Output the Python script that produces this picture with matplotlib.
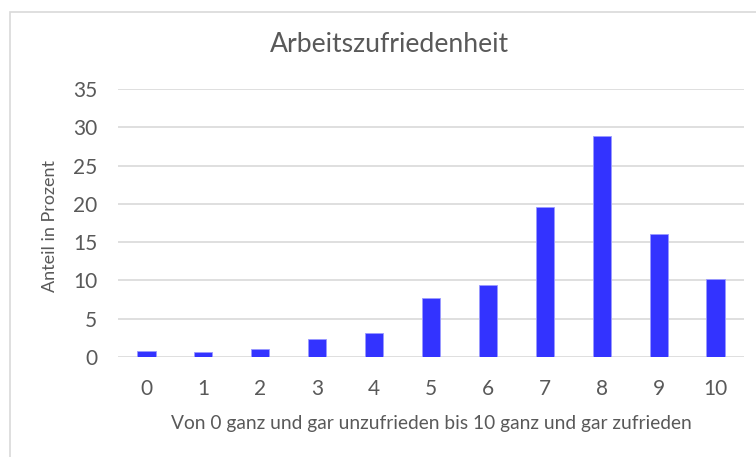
import matplotlib
matplotlib.use("Agg")
import matplotlib.pyplot as plt
from matplotlib.patches import Rectangle

categories = ["0", "1", "2", "3", "4", "5", "6", "7", "8", "9", "10"]
values = [0.8, 0.6, 1.1, 2.3, 3.1, 7.7, 9.4, 19.6, 28.8, 16.1, 10.2]
yticks = [0, 5, 10, 15, 20, 25, 30, 35]

title = "Arbeitszufriedenheit"
xlabel = "Von 0 ganz und gar unzufrieden bis 10 ganz und gar zufrieden"
ylabel = "Anteil in Prozent"

plt.rcParams['font.family'] = ['Lato', 'DejaVu Sans']
txt = '#595959'

fig = plt.figure(figsize=(7.56, 4.57), dpi=100)
ax = fig.add_axes([118/756, 1-357/457, (744-118)/756, (357-89)/457])

x = list(range(len(categories)))
ax.bar(x, values, width=0.32, color='#3333FF', edgecolor='#9a9aff', linewidth=0.6, zorder=3)

ax.set_ylim(0, 35)
ax.set_xlim(-0.5, len(categories)-0.5)
ax.set_yticks(yticks)
ax.set_yticklabels([str(t) for t in yticks])
ax.set_xticks(x)
ax.set_xticklabels(categories)
ax.tick_params(axis='both', length=0, labelsize=15, colors=txt)
ax.tick_params(axis='y', pad=15)
ax.tick_params(axis='x', pad=16)
ax.grid(axis='y', color='#d9d9d9', linewidth=1.2, zorder=0)
for s in ax.spines.values():
    s.set_visible(False)

fig.text(389/756, 1-45/457, title, ha='center', va='center', fontsize=19.2, color=txt)
fig.text(431/756, 1-423/457, xlabel, ha='center', va='center', fontsize=13.8, color=txt)
fig.text(50/756, 1-226/457, ylabel, ha='center', va='center', rotation=90, fontsize=13, color=txt)

fig.patches.append(Rectangle((10/756, -0.1), 1.2, 1.1 - 12/457, transform=fig.transFigure,
                             fill=False, edgecolor='#d9d9d9', linewidth=1.2))

fig.savefig("out.png", dpi=100)
